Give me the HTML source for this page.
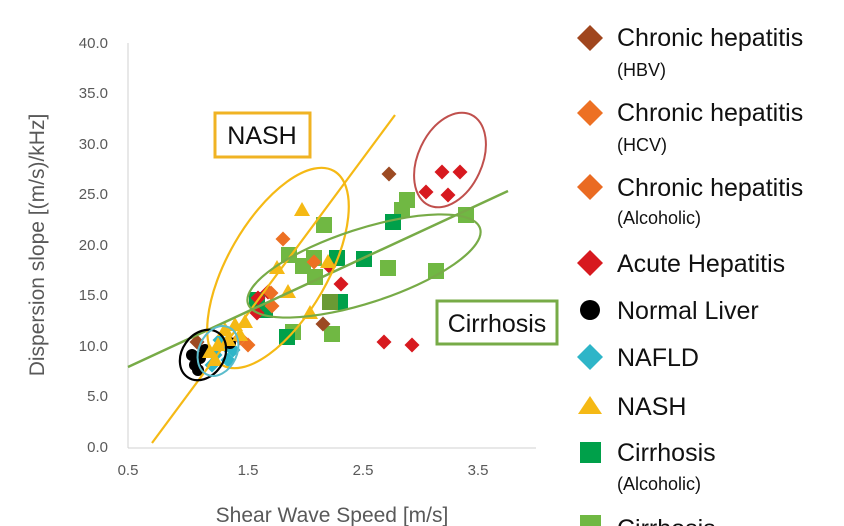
<!DOCTYPE html>
<html><head><meta charset="utf-8"><style>
body{margin:0;background:#fff}
svg{display:block;font-family:"Liberation Sans","DejaVu Sans",sans-serif}
.t{fill:#595959;font-size:15px}
.lg{fill:#111;font-size:25px}
.ls{fill:#111;font-size:18px}
</style></head><body>
<svg width="844" height="526" viewBox="0 0 844 526" xmlns="http://www.w3.org/2000/svg">
<defs>
<path id="dB" d="M0,-7.5 L7.5,0 L0,7.5 L-7.5,0Z" fill="#9c4a22"/>
<path id="dO" d="M0,-7.5 L7.5,0 L0,7.5 L-7.5,0Z" fill="#ed7023"/>
<path id="dR" d="M0,-7.5 L7.5,0 L0,7.5 L-7.5,0Z" fill="#d7191f"/>
<path id="dC" d="M0,-7.5 L7.5,0 L0,7.5 L-7.5,0Z" fill="#2eb5c8"/>
<path id="tY" d="M0,-8 L8,6 L-8,6Z" fill="#f5b915"/>
<rect id="sD" x="-8" y="-8" width="16" height="16" fill="#00a04a"/>
<rect id="sL" x="-8" y="-8" width="16" height="16" fill="#70b843"/>
<circle id="cK" r="6" fill="#000"/>
</defs>
<line x1="128" y1="43" x2="128" y2="448" stroke="#d0d0d0"/>
<line x1="128" y1="448" x2="536" y2="448" stroke="#d0d0d0"/>
<g class="t" text-anchor="end">
<text x="108" y="48">40.0</text><text x="108" y="98">35.0</text><text x="108" y="149">30.0</text>
<text x="108" y="199">25.0</text><text x="108" y="250">20.0</text><text x="108" y="300">15.0</text>
<text x="108" y="351">10.0</text><text x="108" y="401">5.0</text><text x="108" y="452">0.0</text>
</g>
<g class="t" text-anchor="middle">
<text x="128" y="475">0.5</text><text x="248" y="475">1.5</text><text x="363" y="475">2.5</text><text x="478" y="475">3.5</text>
</g>
<text x="332" y="522" text-anchor="middle" fill="#595959" font-size="21">Shear Wave Speed [m/s]</text>
<text transform="translate(44,245) rotate(-90)" text-anchor="middle" fill="#595959" font-size="21">Dispersion slope [(m/s)/kHz]</text>

<g>
<use href="#sL" x="324" y="225"/><use href="#sL" x="289" y="255"/><use href="#sL" x="303" y="266"/>
<use href="#sL" x="315" y="277"/><use href="#sL" x="388" y="268"/><use href="#sL" x="436" y="271"/>
<use href="#sL" x="466" y="215"/><use href="#sL" x="293" y="332"/><use href="#sL" x="332" y="334"/>
<use href="#sL" x="402" y="210"/><use href="#sL" x="407" y="200"/><use href="#sL" x="314" y="258"/>
<use href="#sD" x="393" y="222"/><use href="#sD" x="337" y="258"/><use href="#sD" x="364" y="259"/>
<use href="#sD" x="257" y="300"/><use href="#sD" x="265" y="310"/><use href="#sD" x="287" y="337"/>
<use href="#sD" x="340" y="302"/>
<rect x="322" y="294" width="16" height="16" fill="#6a9a34"/>
<use href="#dB" x="389" y="174"/><use href="#dB" x="197" y="342"/><use href="#dB" x="323" y="324"/>
<use href="#dR" x="442" y="172"/><use href="#dR" x="460" y="172"/><use href="#dR" x="426" y="192"/>
<use href="#dR" x="448" y="195"/><use href="#dR" x="384" y="342"/><use href="#dR" x="412" y="345"/>
<use href="#dR" x="341" y="284"/><use href="#dR" x="258" y="298"/><use href="#dR" x="268" y="292"/>
<use href="#dR" x="329" y="266"/><use href="#dR" x="257" y="313"/>
<use href="#dO" x="283" y="239"/><use href="#dO" x="314" y="262"/><use href="#dO" x="271" y="293"/>
<use href="#dO" x="248" y="345"/><use href="#dO" x="240" y="338"/><use href="#dO" x="272" y="306"/>
<use href="#tY" x="302" y="210"/><use href="#tY" x="277" y="268"/><use href="#tY" x="288" y="292"/>
<use href="#tY" x="328" y="262"/><use href="#tY" x="310" y="313"/>
<use href="#dC" x="215" y="355"/><use href="#dC" x="225" y="345"/><use href="#dC" x="212" y="365"/>
<use href="#dC" x="228" y="360"/><use href="#dC" x="220" y="340"/><use href="#dC" x="233" y="350"/>
<use href="#cK" x="195" y="365"/><use href="#cK" x="192" y="355"/><use href="#cK" x="200" y="358"/>
<use href="#cK" x="205" y="350"/><use href="#cK" x="198" y="370"/><use href="#cK" x="230" y="343"/>
<use href="#tY" x="218" y="345"/><use href="#tY" x="225" y="330"/><use href="#tY" x="235" y="325"/>
<use href="#tY" x="240" y="335"/><use href="#tY" x="228" y="340"/><use href="#tY" x="215" y="360"/>
<use href="#tY" x="245" y="322"/><use href="#tY" x="210" y="352"/>
</g>
<line x1="152" y1="443" x2="395" y2="115" stroke="#f5b915" stroke-width="2.2"/>
<line x1="128" y1="367" x2="508" y2="191" stroke="#77ab47" stroke-width="2.5"/>
<ellipse cx="278" cy="268" rx="112" ry="50" transform="rotate(-60 278 268)" fill="none" stroke="#f5b915" stroke-width="2.2"/>
<ellipse cx="364" cy="266" rx="122" ry="37" transform="rotate(-18 364 266)" fill="none" stroke="#77ab47" stroke-width="2.2"/>
<ellipse cx="450" cy="160" rx="32" ry="50" transform="rotate(25 450 160)" fill="none" stroke="#c0504d" stroke-width="2"/>
<ellipse cx="203" cy="355" rx="21" ry="27" transform="rotate(35 203 355)" fill="none" stroke="#000" stroke-width="2.2"/>
<ellipse cx="218" cy="351" rx="19" ry="26" transform="rotate(25 218 351)" fill="none" stroke="#5bbccc" stroke-width="2"/>
<rect x="215" y="113" width="95" height="44" fill="#fff" stroke="#f0b323" stroke-width="3"/>
<text x="262" y="144" text-anchor="middle" font-size="25" fill="#111">NASH</text>
<rect x="437" y="301" width="120" height="43" fill="#fff" stroke="#77ab47" stroke-width="3"/>
<text x="497" y="332" text-anchor="middle" font-size="25" fill="#111">Cirrhosis</text>
<g transform="translate(590,38)"><path d="M0,-13 L13,0 L0,13 L-13,0Z" fill="#a0461e"/></g>
<text class="lg" x="617" y="46">Chronic hepatitis</text><text class="ls" x="617" y="76">(HBV)</text>
<g transform="translate(590,113)"><path d="M0,-13 L13,0 L0,13 L-13,0Z" fill="#ed7023"/></g>
<text class="lg" x="617" y="121">Chronic hepatitis</text><text class="ls" x="617" y="151">(HCV)</text>
<g transform="translate(590,187)"><path d="M0,-13 L13,0 L0,13 L-13,0Z" fill="#ea6b22"/></g>
<text class="lg" x="617" y="196">Chronic hepatitis</text><text class="ls" x="617" y="224">(Alcoholic)</text>
<g transform="translate(590,263)"><path d="M0,-13 L13,0 L0,13 L-13,0Z" fill="#d7191f"/></g>
<text class="lg" x="617" y="272">Acute Hepatitis</text>
<circle cx="590" cy="310" r="10" fill="#000"/>
<text class="lg" x="617" y="319">Normal Liver</text>
<g transform="translate(590,357)"><path d="M0,-13 L13,0 L0,13 L-13,0Z" fill="#2eb5c8"/></g>
<text class="lg" x="617" y="366">NAFLD</text>
<path d="M590,396 L602,414 L578,414Z" fill="#f5b915"/>
<text class="lg" x="617" y="415">NASH</text>
<rect x="580" y="442" width="21" height="21" fill="#00a04a"/>
<text class="lg" x="617" y="461">Cirrhosis</text><text class="ls" x="617" y="490">(Alcoholic)</text>
<rect x="580" y="515" width="21" height="21" fill="#70b843"/>
<text class="lg" x="617" y="537">Cirrhosis</text>
</svg>
</body></html>
